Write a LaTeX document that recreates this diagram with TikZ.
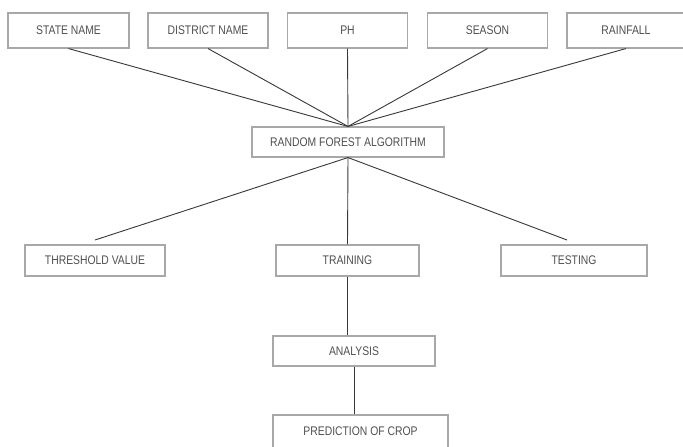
\documentclass[tikz,border=0pt]{standalone}
\usepackage{fontspec}
\setmainfont[FakeStretch=0.83]{Liberation Sans}
\definecolor{boxgray}{HTML}{A8A8A8}
\definecolor{txtgray}{HTML}{505050}
\definecolor{linegray}{HTML}{383838}
\tikzset{
  box/.style={draw=boxgray, line width=1.1pt, rectangle, inner sep=0pt, text=txtgray,
    font=\fontsize{12.5}{14}\selectfont},
  conn/.style={draw=linegray, line width=0.9pt}
}
\begin{document}
\begin{tikzpicture}[x=1pt,y=-1pt]
\useasboundingbox (0,0) rectangle (683,447);
\fill[white] (0,0) rectangle (683,447);
% top row
\node[box, minimum width=121pt, minimum height=35pt] (st) at (68.5,30.5) {STATE NAME};
\node[box, minimum width=120pt, minimum height=35pt] (di) at (208,30.5) {DISTRICT NAME};
\node[box, minimum width=120pt, minimum height=35pt] (ph) at (347.5,30.5) {PH};
\node[box, minimum width=120pt, minimum height=35pt] (se) at (487.5,30.5) {SEASON};
\node[box, minimum width=118pt, minimum height=35pt] (ra) at (626,30.5) {RAINFALL};
% middle
\node[box, minimum width=192pt, minimum height=30pt] (rf) at (348,142) {RANDOM FOREST ALGORITHM};
% third row
\node[box, minimum width=140pt, minimum height=31pt] (th) at (95,260.5) {THRESHOLD VALUE};
\node[box, minimum width=143pt, minimum height=31pt] (tr) at (347.5,260.5) {TRAINING};
\node[box, minimum width=146pt, minimum height=31pt] (te) at (574,260.5) {TESTING};
% lower
\node[box, minimum width=162pt, minimum height=30pt] (an) at (354,351) {ANALYSIS};
\node[box, minimum width=175pt, minimum height=33pt] (pr) at (360.5,431.5) {PREDICTION OF CROP};
% free ends
\coordinate (thEnd) at (95,240);
\coordinate (teEnd) at (567,240);
% connectors
\draw[conn] (st.south) -- (rf.north);
\draw[conn] (di.south) -- (rf.north);
\draw[conn] (ph.south) -- (rf.north);
\draw[conn] (se.south) -- (rf.north);
\draw[conn] (ra.south) -- (rf.north);
\draw[conn] (rf.south) -- (thEnd);
\draw[conn] (rf.south) -- (teEnd);
\draw[conn] (rf.south) -- (tr.north);
\draw[conn] (tr.south) -- (tr.south |- an.north);
\draw[conn] (an.south) -- (an.south |- pr.north);
\end{tikzpicture}
\end{document}
